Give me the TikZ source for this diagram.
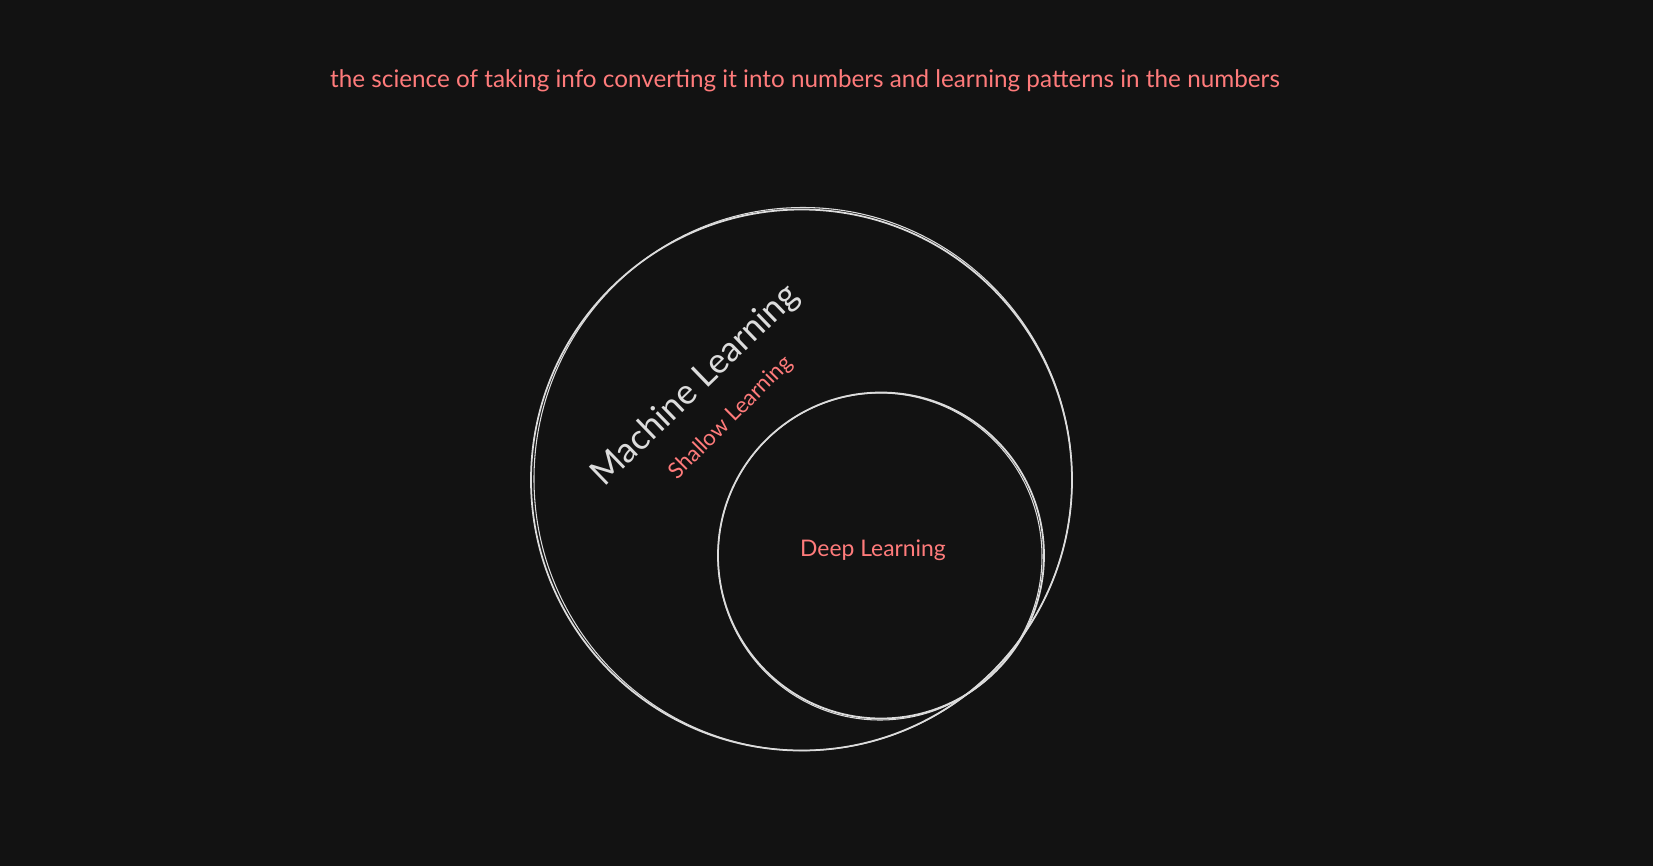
\documentclass[tikz,border=0pt]{standalone}
\usepackage{fontspec}
\setmainfont{Lato}
\usepackage{tikz}
\usetikzlibrary{calc}
\usetikzlibrary{positioning}

\definecolor{bgdark}{HTML}{121212}
\definecolor{coral}{HTML}{FF7B7B}
\definecolor{chalk}{HTML}{DCDCDC}

\tikzset{
	sketch/.style={draw=chalk, line width=0.5pt},
	redtext/.style={text=coral, inner sep=0pt},
}

\begin{document}
\begin{tikzpicture}[x=0.01cm, y=-0.01cm]
		\fill[bgdark] (0, 0) rectangle (1653, 866);
		\useasboundingbox (0, 0) rectangle (1653, 866);

		\coordinate (ML) at (801.5, 480);
		\coordinate (DL) at (881, 555.5);

		\draw[sketch] (ML) circle [radius=270.5];
		\draw[sketch, line width=0.3pt] ($(ML)+(1.5, -1)$) ellipse [x radius=269, y radius=271.5];
		\draw[sketch] (DL) circle [radius=163];
		\draw[sketch, line width=0.3pt] ($(DL)+(-1, 1)$) ellipse [x radius=162, y radius=163.5];

		\node[redtext, font=\fontsize{6.9}{8}\selectfont] (title) at (805, 81)
			{the science of taking info converting it into numbers and learning patterns in the numbers};
		\node[text=chalk, inner sep=0pt, rotate=44, font=\fontsize{10}{12}\selectfont] (mlname) at (696, 386) {Machine Learning};
		\node[redtext, rotate=45, font=\fontsize{6.3}{8}\selectfont] (shallow) at (731, 418) {Shallow Learning};
		\node[redtext, font=\fontsize{6.5}{8}\selectfont] (deep) at (873, 550) {Deep Learning};
\end{tikzpicture}
\end{document}
